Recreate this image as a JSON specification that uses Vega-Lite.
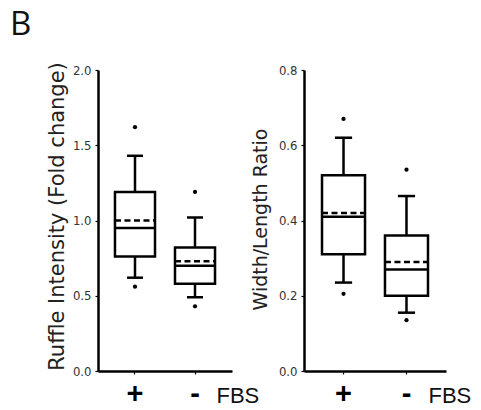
{
  "$schema": "https://vega.github.io/schema/vega-lite/v6.json",
  "padding": {"left": 10, "top": 8, "right": 5, "bottom": 0},
  "bounds": "flush",
  "spacing": 72,
  "title": {"text": "B", "anchor": "start", "frame": "group", "fontSize": 33, "fontWeight": "normal", "font": "Open Sans", "color": "#111", "dx": -88, "offset": 20},
  "datasets": {
    "boxes": [
      {"panel": "ruffle", "fbs": "+", "lower": 0.62, "q1": 0.76, "median": 0.95, "mean": 1.0, "q3": 1.19, "upper": 1.43},
      {"panel": "ruffle", "fbs": "-", "lower": 0.49, "q1": 0.58, "median": 0.70, "mean": 0.73, "q3": 0.82, "upper": 1.02},
      {"panel": "ratio", "fbs": "+", "lower": 0.235, "q1": 0.31, "median": 0.41, "mean": 0.42, "q3": 0.52, "upper": 0.62},
      {"panel": "ratio", "fbs": "-", "lower": 0.155, "q1": 0.20, "median": 0.27, "mean": 0.29, "q3": 0.36, "upper": 0.465}
    ],
    "outliers": [
      {"panel": "ruffle", "fbs": "+", "value": 1.62},
      {"panel": "ruffle", "fbs": "+", "value": 0.56},
      {"panel": "ruffle", "fbs": "-", "value": 1.19},
      {"panel": "ruffle", "fbs": "-", "value": 0.43},
      {"panel": "ratio", "fbs": "+", "value": 0.67},
      {"panel": "ratio", "fbs": "+", "value": 0.205},
      {"panel": "ratio", "fbs": "-", "value": 0.535},
      {"panel": "ratio", "fbs": "-", "value": 0.135}
    ]
  },
  "config": {
    "view": {"stroke": null},
    "axis": {"grid": false, "domainColor": "#000", "domainWidth": 2.5, "tickColor": "#000", "tickWidth": 1.2},
    "axisY": {"labelFont": "DejaVu Sans Condensed", "labelFontSize": 13, "labelColor": "#333", "tickSize": 3, "labelPadding": 4, "titleFont": "DejaVu Sans", "titleFontSize": 19, "titleFontWeight": "normal", "titleColor": "#222"},
    "axisX": {"labelAngle": 0, "labelFont": "Liberation Sans", "labelFontSize": 29, "labelFontWeight": "bold", "labelColor": "#000", "labelBaseline": "middle", "tickSize": 3, "labelPadding": 19, "titleFont": "Liberation Sans", "titleFontSize": 22, "titleFontWeight": "normal", "titleColor": "#111", "titleAlign": "left", "titleBaseline": "alphabetic", "titleAnchor": "start"}
  },
  "hconcat": [
    {
      "width": 134,
      "height": 301,
      "layer": [
        {
          "data": {"name": "boxes"},
          "transform": [{"filter": "datum.panel === 'ruffle'"}],
          "mark": {"type": "rule", "color": "#000", "strokeWidth": 2.5},
          "encoding": {
            "x": {"field": "fbs", "type": "nominal", "sort": ["+", "-"], "scale": {"paddingInner": 0.333, "paddingOuter": 0.283}, "axis": {"title": "FBS", "titleX": 118, "titleY": 31}},
            "y": {"field": "lower", "type": "quantitative", "scale": {"domain": [0, 2]}, "axis": {"title": "Ruffle Intensity (Fold change)", "titleFontSize": 21, "titleY": 146, "values": [0, 0.5, 1, 1.5, 2], "format": ".1f", "titlePadding": 5}},
            "y2": {"field": "upper"}
          }
        },
        {
          "data": {"name": "boxes"},
          "transform": [{"filter": "datum.panel === 'ruffle'"}],
          "mark": {"type": "bar", "fill": "#fff", "stroke": "#000", "strokeWidth": 2.5},
          "encoding": {
            "x": {"field": "fbs", "type": "nominal", "sort": ["+", "-"]},
            "y": {"field": "q1", "type": "quantitative"},
            "y2": {"field": "q3"}
          }
        },
        {
          "data": {"name": "boxes"},
          "transform": [{"filter": "datum.panel === 'ruffle'"}],
          "mark": {"type": "rule", "color": "#000", "strokeWidth": 2.5},
          "encoding": {
            "x": {"field": "fbs", "type": "nominal", "sort": ["+", "-"], "bandPosition": 0},
            "x2": {"field": "fbs", "bandPosition": 1},
            "y": {"field": "median", "type": "quantitative"}
          }
        },
        {
          "data": {"name": "boxes"},
          "transform": [{"filter": "datum.panel === 'ruffle'"}],
          "mark": {"type": "rule", "color": "#000", "strokeWidth": 2.5, "strokeDash": [6, 3.5]},
          "encoding": {
            "x": {"field": "fbs", "type": "nominal", "sort": ["+", "-"], "bandPosition": 0},
            "x2": {"field": "fbs", "bandPosition": 1},
            "y": {"field": "mean", "type": "quantitative"}
          }
        },
        {
          "data": {"name": "boxes"},
          "transform": [{"filter": "datum.panel === 'ruffle'"}],
          "mark": {"type": "rule", "color": "#000", "strokeWidth": 2.5},
          "encoding": {
            "x": {"field": "fbs", "type": "nominal", "sort": ["+", "-"], "bandPosition": 0.3},
            "x2": {"field": "fbs", "bandPosition": 0.7},
            "y": {"field": "upper", "type": "quantitative"}
          }
        },
        {
          "data": {"name": "boxes"},
          "transform": [{"filter": "datum.panel === 'ruffle'"}],
          "mark": {"type": "rule", "color": "#000", "strokeWidth": 2.5},
          "encoding": {
            "x": {"field": "fbs", "type": "nominal", "sort": ["+", "-"], "bandPosition": 0.3},
            "x2": {"field": "fbs", "bandPosition": 0.7},
            "y": {"field": "lower", "type": "quantitative"}
          }
        },
        {
          "data": {"name": "outliers"},
          "transform": [{"filter": "datum.panel === 'ruffle'"}],
          "mark": {"type": "circle", "color": "#000", "opacity": 1, "size": 18},
          "encoding": {
            "x": {"field": "fbs", "type": "nominal", "sort": ["+", "-"]},
            "y": {"field": "value", "type": "quantitative"}
          }
        }
      ]
    },
    {
      "width": 142,
      "height": 301,
      "layer": [
        {
          "data": {"name": "boxes"},
          "transform": [{"filter": "datum.panel === 'ratio'"}],
          "mark": {"type": "rule", "color": "#000", "strokeWidth": 2.5},
          "encoding": {
            "x": {"field": "fbs", "type": "nominal", "sort": ["+", "-"], "scale": {"paddingInner": 0.317, "paddingOuter": 0.286}, "axis": {"title": "FBS", "titleX": 124, "titleY": 31}},
            "y": {"field": "lower", "type": "quantitative", "scale": {"domain": [0, 0.8]}, "axis": {"title": "Width/Length Ratio", "titleY": 149, "values": [0, 0.2, 0.4, 0.6, 0.8], "format": ".1f", "titlePadding": 8}},
            "y2": {"field": "upper"}
          }
        },
        {
          "data": {"name": "boxes"},
          "transform": [{"filter": "datum.panel === 'ratio'"}],
          "mark": {"type": "bar", "fill": "#fff", "stroke": "#000", "strokeWidth": 2.5},
          "encoding": {
            "x": {"field": "fbs", "type": "nominal", "sort": ["+", "-"]},
            "y": {"field": "q1", "type": "quantitative"},
            "y2": {"field": "q3"}
          }
        },
        {
          "data": {"name": "boxes"},
          "transform": [{"filter": "datum.panel === 'ratio'"}],
          "mark": {"type": "rule", "color": "#000", "strokeWidth": 2.5},
          "encoding": {
            "x": {"field": "fbs", "type": "nominal", "sort": ["+", "-"], "bandPosition": 0},
            "x2": {"field": "fbs", "bandPosition": 1},
            "y": {"field": "median", "type": "quantitative"}
          }
        },
        {
          "data": {"name": "boxes"},
          "transform": [{"filter": "datum.panel === 'ratio'"}],
          "mark": {"type": "rule", "color": "#000", "strokeWidth": 2.5, "strokeDash": [6, 3.5]},
          "encoding": {
            "x": {"field": "fbs", "type": "nominal", "sort": ["+", "-"], "bandPosition": 0},
            "x2": {"field": "fbs", "bandPosition": 1},
            "y": {"field": "mean", "type": "quantitative"}
          }
        },
        {
          "data": {"name": "boxes"},
          "transform": [{"filter": "datum.panel === 'ratio'"}],
          "mark": {"type": "rule", "color": "#000", "strokeWidth": 2.5},
          "encoding": {
            "x": {"field": "fbs", "type": "nominal", "sort": ["+", "-"], "bandPosition": 0.3},
            "x2": {"field": "fbs", "bandPosition": 0.7},
            "y": {"field": "upper", "type": "quantitative"}
          }
        },
        {
          "data": {"name": "boxes"},
          "transform": [{"filter": "datum.panel === 'ratio'"}],
          "mark": {"type": "rule", "color": "#000", "strokeWidth": 2.5},
          "encoding": {
            "x": {"field": "fbs", "type": "nominal", "sort": ["+", "-"], "bandPosition": 0.3},
            "x2": {"field": "fbs", "bandPosition": 0.7},
            "y": {"field": "lower", "type": "quantitative"}
          }
        },
        {
          "data": {"name": "outliers"},
          "transform": [{"filter": "datum.panel === 'ratio'"}],
          "mark": {"type": "circle", "color": "#000", "opacity": 1, "size": 18},
          "encoding": {
            "x": {"field": "fbs", "type": "nominal", "sort": ["+", "-"]},
            "y": {"field": "value", "type": "quantitative"}
          }
        }
      ]
    }
  ]
}
